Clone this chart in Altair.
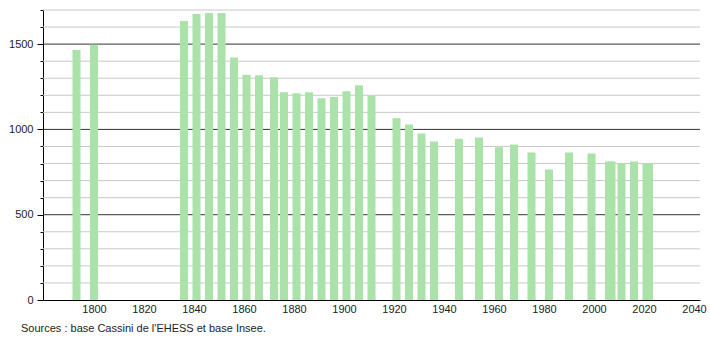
import altair as alt
import pandas as pd

# Census years and population values
years = [1793, 1800, 1836, 1841, 1846, 1851, 1856, 1861, 1866, 1872, 1876,
         1881, 1886, 1891, 1896, 1901, 1906, 1911, 1921, 1926, 1931, 1936,
         1946, 1954, 1962, 1968, 1975, 1982, 1990, 1999, 2006, 2007, 2011,
         2016, 2021, 2022]
population = [1465, 1496, 1635, 1676, 1682, 1682, 1421, 1321, 1318, 1306, 1218,
              1212, 1218, 1182, 1190, 1224, 1259, 1198, 1065, 1029, 976, 929,
              945, 953, 896, 912, 865, 765, 865, 859, 812, 812, 800,
              812, 800, 800]

x_ticks = [1800, 1820, 1840, 1860, 1880, 1900, 1920, 1940, 1960, 1980, 2000, 2020, 2040]
y_ticks = list(range(0, 1701, 100))
major_grid = [500, 1000, 1500]
minor_grid = [v for v in y_ticks if v % 500 != 0]
source = "Sources : base Cassini de l'EHESS et base Insee."

W, H = 657, 290
FONT = "Liberation Sans"

df = pd.DataFrame({"year": years, "pop": population})

yscale = alt.Scale(domain=[0, 1700], nice=False, zero=True)
xscale = alt.Scale(domain=[1779.6, 2042.4], nice=False, zero=False)

yaxis = alt.Axis(values=y_ticks, format="d", grid=False, title=None,
                 labelExpr="datum.value % 500 === 0 ? datum.label : ''",
                 tickSize={"condition": {"test": "datum.value % 500 === 0", "value": 6}, "value": 3},
                 tickColor="#000000", domainColor="#000000",
                 labelFont=FONT, labelFontSize=11, labelColor="#222222",
                 labelPadding=4)

minor = alt.Chart(pd.DataFrame({"v": minor_grid})).mark_rule(
    color="#c8c8c8", strokeWidth=1
).encode(
    y=alt.Y("v:Q", scale=yscale, axis=yaxis, title=None),
    x=alt.value(0), x2=alt.value(W)
)

major = alt.Chart(pd.DataFrame({"v": major_grid})).mark_rule(
    color="#333333", strokeWidth=1
).encode(
    y=alt.Y("v:Q", scale=yscale, axis=yaxis, title=None),
    x=alt.value(0), x2=alt.value(W)
)

bars = alt.Chart(df).transform_calculate(
    x0="datum.year - 1.6", x1="datum.year + 1.6"
).mark_bar(color="#aae2aa").encode(
    x=alt.X("x0:Q", scale=xscale, title=None,
            axis=alt.Axis(values=x_ticks, format="d", ticks=False, grid=False,
                          domainColor="#000000", labelFont=FONT, labelFontSize=11,
                          labelColor="#222222", labelPadding=3)),
    x2="x1:Q",
    y=alt.Y("pop:Q", scale=yscale, axis=yaxis, title=None),
    y2=alt.datum(0),
)

text = alt.Chart(pd.DataFrame({"t": [source]})).mark_text(
    align="left", baseline="middle", fontSize=11, font=FONT, color="#222222"
).encode(text="t:N", x=alt.value(-22), y=alt.value(H + 29))

chart = alt.layer(minor, major, bars, text).properties(
    width=W, height=H,
    padding={"left": 43, "top": 10, "right": 10, "bottom": 40},
    autosize=alt.AutoSizeParams(type="none"),
).configure_view(stroke=None)

chart.save("out.html", embed_options={"renderer": "svg", "actions": False})
